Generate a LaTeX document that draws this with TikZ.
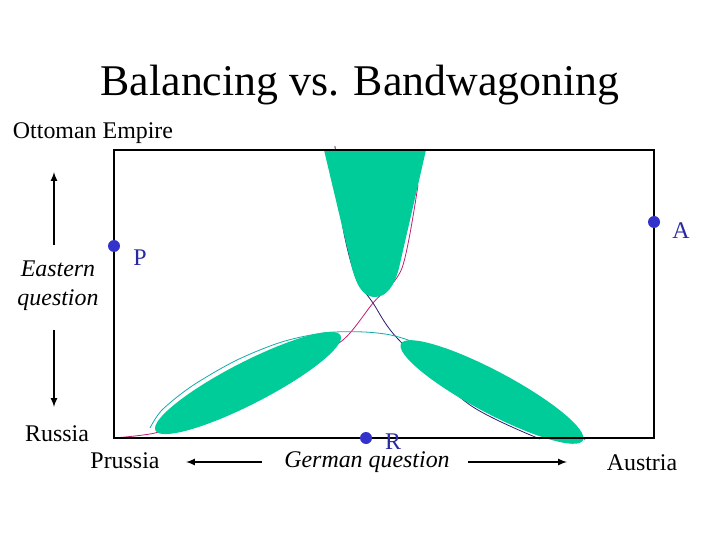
\documentclass[tikz,border=0pt]{standalone}
\usepackage{fontspec}
\setmainfont{Liberation Serif}
\definecolor{lensgreen}{RGB}{0,204,153}
\definecolor{dotblue}{RGB}{51,51,204}
\definecolor{curvenavy}{RGB}{40,30,110}
\definecolor{curvemag}{RGB}{190,30,120}
\definecolor{curveteal}{RGB}{20,170,170}
\tikzset{
  lbl/.style={font=\fontsize{24}{28}\selectfont, inner sep=0pt},
  ilbl/.style={lbl, font=\fontsize{24}{29}\selectfont\itshape, align=center},
  pt/.style={circle, fill=dotblue, inner sep=0pt, minimum size=12bp},
  ptlbl/.style={lbl, text=dotblue!80!black},
  axarrow/.style={->, line width=2bp}
}
\begin{document}
\begin{tikzpicture}[x=1bp, y=-1bp, >=latex]
    \useasboundingbox[fill=white] (0,0) rectangle (720,540);
    % Title
    \node[font=\fontsize{44}{50}\selectfont, inner sep=0pt] (title) at (360,85) {Balancing vs. Bandwagoning};
    % Indifference curves (under the fills)
    \draw[curvenavy, line width=0.8bp] plot[smooth] coordinates {(335,146) (342,222) (355,275) (373,303) (398,339) (470,405) (540,439)};
    \draw[curvemag, line width=0.8bp] plot[smooth] coordinates {(418,185) (402,268) (373,303) (343,340) (300,364) (240,390) (185,420) (155,433) (114,438)};
    \draw[curveteal, line width=0.8bp] plot[smooth] coordinates {(150,428) (162,410) (192,386) (237,360) (285,341) (335,332) (395,336) (470,366) (540,405) (585,440)};
    % Green regions
    \fill[lensgreen] (324,150) -- (352,268) .. controls (358,291) and (366,297) .. (375,297)
        .. controls (386,297) and (394,287) .. (399,268) -- (426,150) -- cycle;
    \fill[lensgreen, shift={(248,383)}, rotate=27.2] (0,0) ellipse (104bp and 21bp);
    \fill[lensgreen, shift={(492,392)}, rotate=-28] (0,0) ellipse (103bp and 21bp);
    % Frame
    \draw[line width=1.4bp] (114,150) rectangle (654,438);
    % Points
    \node[pt] (pDot) at (114,246) {};
    \node[pt] (aDot) at (654,222) {};
    \node[pt] (rDot) at (366,438) {};
    \node[ptlbl] (pLab) at (140,258) {P};
    \node[ptlbl] (aLab) at (681,231) {A};
    \node[ptlbl] (rLab) at (393,442) {R};
    % Labels
    \node[lbl] (ottoman) at (93,133) {Ottoman Empire};
    \node[ilbl] (eastern) at (58,286) {Eastern\\question};
    \node[lbl] (russia) at (57,434) {Russia};
    \node[lbl] (prussia) at (125,461) {Prussia};
    \node[ilbl] (german) at (367,462) {German question};
    \node[lbl] (austria) at (642,463) {Austria};
    % Arrows
    \coordinate (upTail) at (54,245);
    \coordinate (upHead) at (54,172);
    \coordinate (downTail) at (54,330);
    \coordinate (downHead) at (54,407);
    \coordinate (leftTail) at (262,462);
    \coordinate (leftHead) at (186,462);
    \coordinate (rightTail) at (468,462);
    \coordinate (rightHead) at (567,462);
    \draw[axarrow] (upTail) -- (upHead);
    \draw[axarrow] (downTail) -- (downHead);
    \draw[axarrow] (leftTail) -- (leftHead);
    \draw[axarrow] (rightTail) -- (rightHead);
\end{tikzpicture}
\end{document}
